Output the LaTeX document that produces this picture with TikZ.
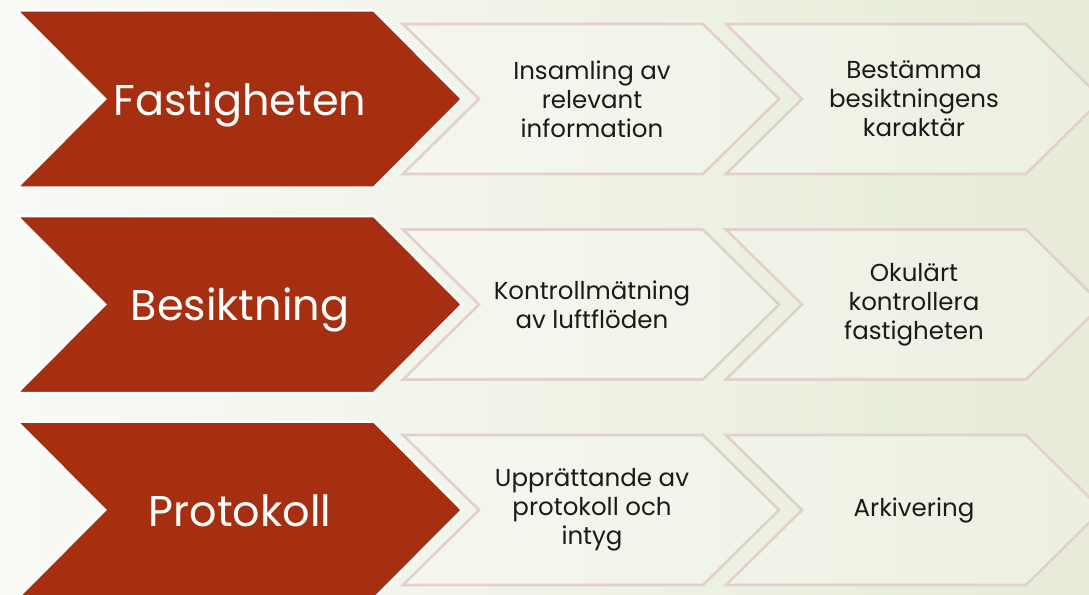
\documentclass[tikz,border=0pt]{standalone}
\usepackage{fontspec}
\setmainfont{Poppins}
\definecolor{bgL}{HTML}{F9FAF6}
\definecolor{bgM}{HTML}{F1F4EA}
\definecolor{bgR}{HTML}{E6ECD7}
\definecolor{rust}{HTML}{A52F10}
\definecolor{pinkline}{HTML}{E2CFCE}
\definecolor{ink}{HTML}{1A1A1A}
\tikzset{
  redchev/.style={fill=rust,draw=white,line width=2.5pt,line join=miter},
  lightchev/.style={fill=white,fill opacity=0.25,draw=pinkline,draw opacity=1,line width=2.6pt,line join=miter},
  bigtext/.style={text=white,font=\fontsize{43}{48}\selectfont,inner sep=0pt,anchor=base},
  smalltext/.style={text=ink,font=\fontsize{24.5}{29}\selectfont,align=center,inner sep=0pt,anchor=center},
}
% \mychev{style}{x0}{x1}{yc}{half height}{depth}
\newcommand\mychev[6]{%
  \path[#1] (#2,#4-#5) -- (#3,#4-#5) -- (#3+#6,#4) -- (#3,#4+#5) -- (#2,#4+#5) -- (#2+#6,#4) -- cycle;}
\begin{document}
\begin{tikzpicture}[x=1pt,y=-1pt]
\useasboundingbox (0,0) rectangle (1089,594);
\shade[left color=bgL,middle color=bgM,right color=bgR] (0,0) rectangle (1089,594);
% Row 1
\mychev{lightchev}{403}{703}{99}{75}{76}
\mychev{lightchev}{726}{1026}{99}{75}{76}
\mychev{redchev}{17}{374}{99}{88.5}{88}
\node[bigtext] (r1) at (240,115) {Fastigheten};
\node[smalltext] (a1) at (592,99) {Insamling av\\relevant\\information};
\node[smalltext] (b1) at (914,99) {Bestämma\\besiktningens\\karaktär};
% Row 2
\mychev{lightchev}{403}{703}{304.5}{75}{76}
\mychev{lightchev}{726}{1026}{304.5}{75}{76}
\mychev{redchev}{17}{374}{304.5}{88.5}{88}
\node[bigtext] (r2) at (240,320.5) {Besiktning};
\node[smalltext] (a2) at (592,305) {Kontrollmätning\\av luftflöden};
\node[smalltext] (b2) at (914,305) {Okulärt\\kontrollera\\fastigheten};
% Row 3
\mychev{lightchev}{403}{703}{510}{75}{76}
\mychev{lightchev}{726}{1026}{510}{75}{76}
\mychev{redchev}{17}{374}{510}{88.5}{88}
\node[bigtext] (r3) at (240,526) {Protokoll};
\node[smalltext] (a3) at (592,510) {Upprättande av\\protokoll och\\intyg};
\node[smalltext] (b3) at (914,510) {Arkivering};
\end{tikzpicture}
\end{document}
